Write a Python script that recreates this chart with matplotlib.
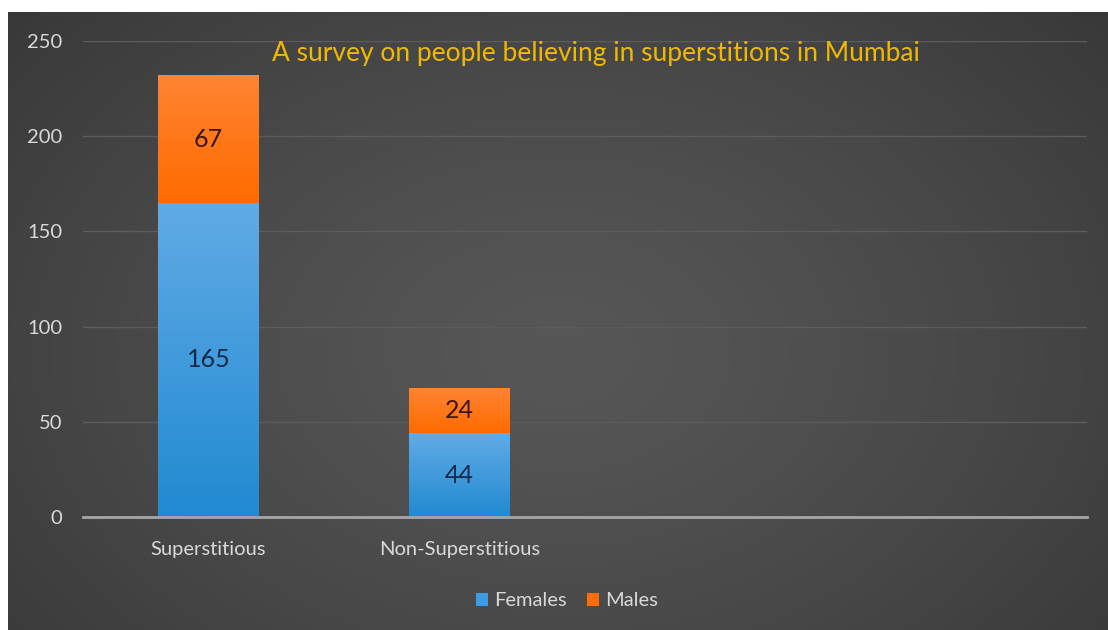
import numpy as np
import matplotlib.pyplot as plt
from matplotlib.patches import Rectangle

plt.rcParams['font.family'] = ['Lato', 'DejaVu Sans']

# data
categories = ['Superstitious', 'Non-Superstitious', '', '']
females = [165, 44, 0, 0]
males = [67, 24, 0, 0]
yticks = [0, 50, 100, 150, 200, 250]
title = 'A survey on people believing in superstitions in Mumbai'

W, H = 1108, 630
fig = plt.figure(figsize=(W / 100, H / 100), dpi=100)
fig.patch.set_facecolor('white')

# dark panel with radial gradient
bg = fig.add_axes([8 / W, 0, 1 - 8 / W, 1 - 12 / H])
bg.set_axis_off()
yy, xx = np.mgrid[0:1:300j, 0:1:500j]
r = np.sqrt(((xx - 0.5) / 0.8) ** 2 + ((yy - 0.45) / 1.0) ** 2)
shade = np.clip(0.34 - 0.15 * r ** 1.3, 0.18, 0.34)
bg.imshow(np.dstack([shade] * 3), aspect='auto', extent=[0, 1, 0, 1], origin='lower')

# main axes: x from 83 to 1087 px, y 0 at 517 px, 250 at 41 px
ax = fig.add_axes([83 / W, (H - 517) / H, (1087 - 83) / W, (517 - 41) / H])
ax.patch.set_alpha(0)
x = np.arange(len(categories))
width = 0.4


def grad_bar(xc, bottom, height, top_col, bot_col):
    if height <= 0:
        return
    rect = Rectangle((xc - width / 2, bottom), width, height, facecolor='none', edgecolor='none')
    ax.add_patch(rect)
    g = np.linspace(0, 1, 100).reshape(-1, 1)
    c0 = np.array(bot_col)
    c1 = np.array(top_col)
    img = (c0[None, None, :] * (1 - g[:, :, None]) + c1[None, None, :] * g[:, :, None])
    im = ax.imshow(img, aspect='auto', origin='lower', zorder=3,
                   extent=[xc - width / 2, xc + width / 2, bottom, bottom + height])
    im.set_clip_path(rect)


blue_top = (0.38, 0.67, 0.90)
blue_bot = (0.13, 0.54, 0.82)
or_top = (1.0, 0.52, 0.20)
or_bot = (1.0, 0.42, 0.0)

for i in range(len(categories)):
    grad_bar(x[i], 0, females[i], blue_top, blue_bot)
    grad_bar(x[i], females[i], males[i], or_top, or_bot)
    if females[i] > 0:
        ax.text(x[i], females[i] / 2, str(females[i]), ha='center', va='center',
                fontsize=18, color='#14284a', zorder=4)
    if males[i] > 0:
        ax.text(x[i], females[i] + males[i] / 2, str(males[i]), ha='center', va='center',
                fontsize=18, color='#3a1400', zorder=4)

ax.set_xlim(-0.5, len(categories) - 0.5)
ax.set_ylim(0, 250)
ax.set_yticks(yticks)
ax.set_yticklabels([str(t) for t in yticks], fontsize=14.5, color='#d9d9d9')
ax.set_xticks(x[:2])
ax.set_xticklabels(categories[:2], fontsize=14.5, color='#d9d9d9')
ax.tick_params(length=0)
ax.tick_params(axis='y', pad=15)
ax.tick_params(axis='x', pad=17)
ax.grid(axis='y', color='#5c5c5c', linewidth=1)
ax.set_axisbelow(True)
for s in ['top', 'right', 'left']:
    ax.spines[s].set_visible(False)
ax.spines['bottom'].set_color('#a6a6a6')
ax.spines['bottom'].set_linewidth(2)
ax.spines['bottom'].set_zorder(5)

fig.text(596 / W, 1 - 54 / H, title, ha='center', va='center', fontsize=19, color='#f0b800')

# legend
h1 = Rectangle((0, 0), 1, 1, facecolor='#3a9be6')
h2 = Rectangle((0, 0), 1, 1, facecolor='#ff6d0a')
fig.legend([h1, h2], ['Females', 'Males'], loc='center', bbox_to_anchor=(567 / W, 1 - 601 / H),
           ncol=2, frameon=False, fontsize=14.5, labelcolor='#d9d9d9', handlelength=0.6,
           handleheight=0.6, handletextpad=0.3, columnspacing=1.0)

fig.savefig('out.png', dpi=100, facecolor='white')
